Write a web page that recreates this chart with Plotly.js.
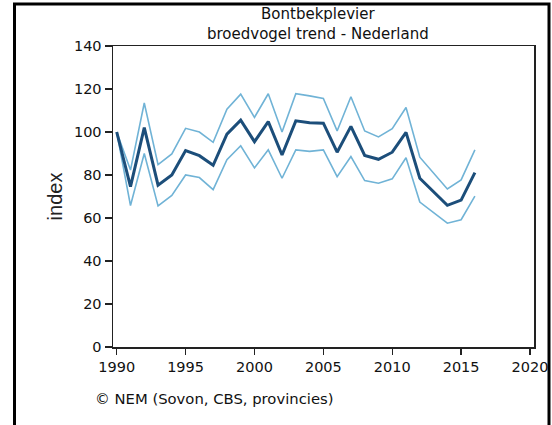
<!DOCTYPE html>
<html>
<head>
<meta charset="utf-8">
<script src="https://cdn.plot.ly/plotly-3.0.1.min.js"></script>
<style>
html,body{margin:0;padding:0;background:#fff;}
#chart{width:552px;height:425px;}
</style>
</head>
<body>
<div id="chart"></div>
<script>
const years = [1990,1991,1992,1993,1994,1995,1996,1997,1998,1999,2000,2001,2002,2003,2004,2005,2006,2007,2008,2009,2010,2011,2012,2013,2014,2015,2016];
const trend = [100,74.6,102,75.3,80,91.4,89,84.5,99,105.5,95.5,104.8,89.3,105.2,104.3,104.1,90.6,102.6,89.1,87.3,90.6,99.8,78.5,72,65.9,68.3,81.1];
const upper = [100,82.3,113.5,84.8,89.8,101.7,100,95.2,110.6,117.6,106.8,117.8,100,117.8,116.8,115.6,100.5,116.4,100.5,97.7,101.5,111.4,88.3,80.8,73.5,77.7,91.7];
const lower = [100,65.8,90,65.6,70.5,80,78.8,73.2,87.1,93.6,83.3,91.7,78.5,91.7,91,91.7,79.2,88.6,77.4,76.2,78.2,88,67.4,62.6,57.6,59.2,70.2];
const titleLines = ['Bontbekplevier','broedvogel trend - Nederland'];
const yTitle = 'index';
const footer = '\u00A9 NEM (Sovon, CBS, provincies)';
const xTicks = [1990,1995,2000,2005,2010,2015,2020];
const yTicks = [0,20,40,60,80,100,120,140];

// pixel helpers for paper coordinates (plot area: x 113..534, y 46..347)
const L = 113, R = 534, T = 46, B = 347;
const px = v => (v - L) / (R - L);
const py = v => (B - v) / (B - T);

const traces = [
  {x: years, y: upper, mode: 'lines', line: {color: '#70b3d6', width: 1.6}, hoverinfo: 'skip'},
  {x: years, y: lower, mode: 'lines', line: {color: '#70b3d6', width: 1.6}, hoverinfo: 'skip'},
  {x: years, y: trend, mode: 'lines', line: {color: '#1c4e7a', width: 3}}
];

const tickFont = {family: 'DejaVu Sans', size: 14.5, color: '#111'};

const layout = {
  width: 552, height: 425,
  margin: {l: L, r: 552 - R, t: T, b: 425 - B, pad: 0},
  paper_bgcolor: '#fff', plot_bgcolor: '#fff',
  showlegend: false,
  xaxis: {
    range: [1989.73, 2020.29], tickvals: xTicks, ticktext: xTicks.map(String),
    showgrid: false, zeroline: false,
    showline: true, linecolor: '#222', linewidth: 1.5, mirror: true,
    ticks: 'outside', ticklen: 6, tickwidth: 1.3, tickcolor: '#222',
    tickfont: tickFont, automargin: false
  },
  yaxis: {
    range: [0, 140], tickvals: yTicks, ticktext: yTicks.map(String),
    showgrid: false, zeroline: false,
    showline: true, linecolor: '#222', linewidth: 1.5, mirror: true,
    ticks: 'outside', ticklen: 7, tickwidth: 1.3, tickcolor: '#222',
    tickfont: tickFont, automargin: false,
    title: {text: yTitle, font: {family: 'Liberation Sans', size: 20, color: '#222'}, standoff: 6}
  },
  annotations: [
    {text: titleLines.join('<br>'), xref: 'paper', yref: 'paper', x: px(318), y: py(24), xanchor: 'center', yanchor: 'middle',
     showarrow: false, font: {family: 'DejaVu Sans', size: 15, color: '#111'}},
    {text: footer, xref: 'paper', yref: 'paper', x: px(93), y: py(398), xanchor: 'left', yanchor: 'middle',
     showarrow: false, font: {family: 'DejaVu Sans', size: 14.8, color: '#111'}}
  ],
  shapes: [
    {type: 'rect', xref: 'paper', yref: 'paper', x0: px(14.5), x1: px(549), y0: py(440), y1: py(4),
     line: {color: '#000', width: 3}, fillcolor: 'rgba(0,0,0,0)', layer: 'above'}
  ]
};

Plotly.newPlot('chart', traces, layout, {displayModeBar: false, staticPlot: true});
</script>
</body>
</html>
